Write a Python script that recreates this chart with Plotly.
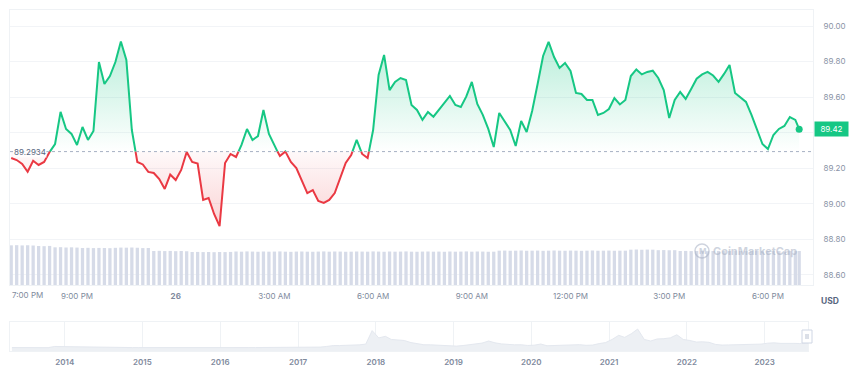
import plotly.graph_objects as go
from datetime import datetime, timedelta

# ---------------- data ----------------
START = datetime(2023, 7, 25, 19, 0)
STEP_MINUTES = 10
LAST_TIME = datetime(2023, 7, 26, 18, 57)
OPEN_PRICE = 89.2934

price = [
    89.257, 89.246, 89.224, 89.180, 89.242, 89.218, 89.235, 89.291, 89.336, 89.517,
    89.421, 89.393, 89.331, 89.432, 89.359, 89.410, 89.798, 89.674, 89.719, 89.798,
    89.914, 89.810, 89.415, 89.235, 89.221, 89.179, 89.173, 89.139, 89.083, 89.164,
    89.133, 89.190, 89.291, 89.235, 89.226, 89.021, 89.032, 88.942, 88.874, 89.229,
    89.280, 89.263, 89.331, 89.421, 89.359, 89.381, 89.528, 89.393, 89.325, 89.269,
    89.294, 89.235, 89.201, 89.133, 89.060, 89.077, 89.015, 89.004, 89.021, 89.060,
    89.139, 89.229, 89.274, 89.359, 89.280, 89.257, 89.415, 89.725, 89.838, 89.640,
    89.686, 89.708, 89.697, 89.556, 89.528, 89.472, 89.517, 89.490, 89.528, 89.567,
    89.607, 89.556, 89.545, 89.604, 89.686, 89.562, 89.500, 89.421, 89.319, 89.511,
    89.466, 89.415, 89.325, 89.466, 89.404, 89.522, 89.674, 89.832, 89.911, 89.826,
    89.765, 89.793, 89.748, 89.624, 89.618, 89.584, 89.584, 89.500, 89.511, 89.533,
    89.595, 89.559, 89.584, 89.719, 89.756, 89.728, 89.742, 89.749, 89.708, 89.640,
    89.483, 89.584, 89.629, 89.590, 89.646, 89.704, 89.728, 89.742, 89.722, 89.686,
    89.731, 89.781, 89.624, 89.598, 89.573, 89.500, 89.421, 89.336, 89.308, 89.387,
    89.421, 89.438, 89.488, 89.472, 89.42,
]

volume = [
    476, 478, 475, 477, 474, 468, 466, 469, 452, 454,
    450, 452, 449, 444, 446, 443, 445, 444, 442, 446,
    449, 448, 450, 447, 443, 444, 408, 410, 407, 409,
    406, 408, 405, 396, 397, 395, 396, 394, 396, 395,
    397, 402, 400, 403, 401, 399, 402, 400, 401, 403,
    400, 398, 401, 402, 400, 399, 401, 403, 400, 402,
    401, 399, 400, 402, 401, 400, 403, 401, 399, 402,
    400, 401, 403, 400, 399, 401, 402, 400, 401, 399,
    402, 400, 401, 403, 400, 402, 401, 399, 400, 412,
    413, 411, 412, 414, 411, 412, 413, 410, 412, 414,
    412, 411, 413, 412, 410, 412, 414, 411, 412, 413,
    411, 412, 412, 424, 426, 423, 425, 424, 418, 419,
    417, 418, 408, 409, 407, 408, 410, 406, 408, 409,
    407, 408, 410, 408, 407, 409, 408, 406, 408, 409,
    407, 408, 409, 407, 408,
]

time_tick_values = ["2023-07-25 21:00", "2023-07-26 00:00", "2023-07-26 03:00",
                    "2023-07-26 06:00", "2023-07-26 09:00", "2023-07-26 12:00",
                    "2023-07-26 15:00", "2023-07-26 18:00"]
time_tick_labels = ["9:00 PM", "<b>26</b>", "3:00 AM", "6:00 AM", "9:00 AM",
                    "12:00 PM", "3:00 PM", "6:00 PM"]
first_time_label = "7:00 PM"

price_tick_values = [88.6, 88.8, 89.0, 89.2, 89.4, 89.6, 89.8, 90.0]
price_tick_labels = ["88.60", "88.80", "89.00", "89.20", "", "89.60", "89.80", "90.00"]

# long-term history (mid-month samples, USD) for the navigator
history_start = "2013-04-28"
history_end = "2023-07-24"
history_values = [
    4.3,
    3.2, 2.9, 2.8, 2.9, 2.5, 2.2, 25, 22,                      # 2013 May-Dec
    24, 17, 14, 10, 10, 10, 7.5, 5.5, 5, 4, 3.8, 3,            # 2014
    2.2, 2.1, 1.8, 1.5, 1.4, 1.8, 4, 3.7, 2.9, 3, 3.4, 3.5,    # 2015
    3.4, 3.3, 3.2, 3.7, 4, 4.3, 4, 3.8, 3.9, 3.8, 3.8, 4.4,    # 2016
    4, 3.9, 4.2, 13, 25, 42, 43, 46, 48, 56, 70, 330,          # 2017
    190, 220, 160, 150, 140, 100, 82, 58, 57, 52, 40, 30,      # 2018
    32, 43, 58, 78, 90, 130, 95, 74, 60, 57, 58, 44,           # 2019
    50, 72, 39, 43, 45, 43, 45, 60, 47, 52, 80, 100,           # 2020
    160, 240, 200, 270, 360, 160, 130, 170, 175, 190, 250, 160,  # 2021
    140, 110, 115, 105, 65, 52, 55, 58, 54, 55, 65, 70,        # 2022
    88, 95, 85, 90, 85, 82, 90,                                # 2023 Jan-Jul
    89.4,
]
history_years = [2014, 2015, 2016, 2017, 2018, 2019, 2020, 2021, 2022, 2023]

# ---------------- derived series ----------------
times = [START + timedelta(minutes=STEP_MINUTES * i) for i in range(len(price) - 1)] + [LAST_TIME]

history_dates = [history_start]
for y in range(2013, 2024):
    for m in range(1, 13):
        if (y == 2013 and m < 5) or (y == 2023 and m > 7):
            continue
        history_dates.append(f"{y}-{m:02d}-15")
history_dates.append(history_end)

# insert crossing points with the opening price
pts = list(zip(times, price))
refined = [pts[0]]
for (t0, v0), (t1, v1) in zip(pts[:-1], pts[1:]):
    if (v0 - OPEN_PRICE) * (v1 - OPEN_PRICE) < 0:
        f = (OPEN_PRICE - v0) / (v1 - v0)
        refined.append((t0 + (t1 - t0) * f, OPEN_PRICE))
    refined.append((t1, v1))


def build_line(up):
    xs, ys = [], []
    prev_in = False
    for (t0, v0), (t1, v1) in zip(refined[:-1], refined[1:]):
        mid = (v0 + v1) / 2
        inside = mid >= OPEN_PRICE if up else mid < OPEN_PRICE
        if inside:
            if not prev_in:
                if xs:
                    xs.append(None)
                    ys.append(None)
                xs.append(t0)
                ys.append(v0)
            xs.append(t1)
            ys.append(v1)
        prev_in = inside
    return xs, ys


rx = [p[0] for p in refined]
up_fill = [max(p[1], OPEN_PRICE) for p in refined]
dn_fill = [min(p[1], OPEN_PRICE) for p in refined]

GREEN = "#16c784"
RED = "#ea3943"

fig = go.Figure()

# volume bars
fig.add_trace(go.Bar(x=times, y=volume, yaxis="y2", xaxis="x",
                     marker=dict(color="#d6dbe8", line=dict(width=0)),
                     width=0.6 * STEP_MINUTES * 60000, hoverinfo="skip"))

# green fill
fig.add_trace(go.Scatter(x=[rx[0], rx[-1]], y=[OPEN_PRICE, OPEN_PRICE], mode="lines",
                         line=dict(width=0), hoverinfo="skip"))
fig.add_trace(go.Scatter(x=rx, y=up_fill, mode="lines", line=dict(width=0), fill="tonexty",
                         fillgradient=dict(type="vertical",
                                           colorscale=[[0, "rgba(22,199,132,0.0)"],
                                                       [1, "rgba(22,199,132,0.30)"]],
                                           start=OPEN_PRICE, stop=max(price)),
                         hoverinfo="skip"))
# red fill
fig.add_trace(go.Scatter(x=[rx[0], rx[-1]], y=[OPEN_PRICE, OPEN_PRICE], mode="lines",
                         line=dict(width=0), hoverinfo="skip"))
fig.add_trace(go.Scatter(x=rx, y=dn_fill, mode="lines", line=dict(width=0), fill="tonexty",
                         fillgradient=dict(type="vertical",
                                           colorscale=[[0, "rgba(234,57,67,0.22)"],
                                                       [1, "rgba(234,57,67,0.03)"]],
                                           start=min(price), stop=OPEN_PRICE),
                         hoverinfo="skip"))

gx, gy = build_line(True)
dx, dy = build_line(False)
fig.add_trace(go.Scatter(x=gx, y=gy, mode="lines", line=dict(color=GREEN, width=2)))
fig.add_trace(go.Scatter(x=dx, y=dy, mode="lines", line=dict(color=RED, width=2)))
fig.add_trace(go.Scatter(x=[times[-1]], y=[price[-1]], mode="markers",
                         marker=dict(color=GREEN, size=7)))

# navigator
fig.add_trace(go.Scatter(x=[history_dates[0], history_dates[-1]], y=[-62, -62], mode="lines",
                         line=dict(width=0), xaxis="x2", yaxis="y3", hoverinfo="skip"))
fig.add_trace(go.Scatter(x=history_dates, y=history_values, mode="lines", xaxis="x2", yaxis="y3",
                         line=dict(color="#e4e8ef", width=1), fill="tonexty",
                         fillcolor="#edf0f4", hoverinfo="skip"))

# page body has an 8px default margin, so the figure is 8px smaller and shifted
H = 341.0  # plot-area height in px (reference 10..351)
def py(ypix):
    return (351 - ypix) / H
def px(xpix):
    return (xpix - 10) / 803.0

fig.update_layout(
    width=852, height=373,
    margin=dict(l=2, r=47, t=2, b=30),
    paper_bgcolor="white", plot_bgcolor="white",
    showlegend=False,
    font=dict(family="Inter, sans-serif", size=8, color="#808a9d"),
    xaxis=dict(domain=[0, 1], anchor="y", type="date",
               range=["2023-07-25 18:57:48", "2023-07-26 19:22:12"],
               tickvals=time_tick_values, ticktext=time_tick_labels,
               showgrid=False, zeroline=False,
               showline=True, mirror=True, linecolor="#eff2f5", linewidth=1,
               ticks="outside", ticklen=3, tickcolor="rgba(0,0,0,0)",
               tickfont=dict(size=8, color="#808a9d")),
    yaxis=dict(domain=[py(285), 1], anchor="x", side="right",
               range=[88.542, 90.091],
               tickvals=price_tick_values, ticktext=price_tick_labels,
               gridcolor="#f2f4f7", zeroline=False,
               showline=True, mirror=True, linecolor="#eff2f5", linewidth=1,
               ticks="outside", ticklen=8, tickcolor="rgba(0,0,0,0)",
               tickfont=dict(size=8, color="#8a93a6")),
    yaxis2=dict(overlaying="y", anchor="x", range=[0, 3300], visible=False),
    xaxis2=dict(domain=[0, px(808)], anchor="y3", type="date",
                range=["2013-04-19", "2023-07-24"],
                tickvals=[f"{y}-01-01" for y in history_years],
                ticktext=[str(y) for y in history_years],
                showgrid=True, gridcolor="#eff2f5", zeroline=False,
                showline=True, mirror=True, linecolor="#eff2f5",
                ticks="outside", ticklen=3, tickcolor="rgba(0,0,0,0)",
                tickfont=dict(size=8, color="#808a9d", weight=600)),
    yaxis3=dict(domain=[0, py(322)], anchor="x2", range=[-62, 496],
                showticklabels=False, showgrid=False, zeroline=False,
                showline=True, mirror=True, linecolor="#eff2f5"),
)

fig.add_shape(type="line", xref="paper", x0=0, x1=1, yref="y", y0=OPEN_PRICE, y1=OPEN_PRICE,
              line=dict(color="#a6b0c3", width=1, dash="dot"), layer="above")

# watermark logo
fig.add_shape(type="circle", xref="paper", yref="paper",
              x0=px(695), x1=px(709), y0=py(258), y1=py(244),
              line=dict(color="rgba(165,175,195,0.55)", width=1.5))
# navigator handle
fig.add_shape(type="rect", xref="paper", yref="paper",
              x0=px(802), x1=px(812), y0=py(343), y1=py(330),
              fillcolor="white", line=dict(color="#cfd6e4", width=1))
for hx in (806, 808):
    fig.add_shape(type="line", xref="paper", yref="paper", x0=px(hx), x1=px(hx),
                  y0=py(339), y1=py(334), line=dict(color="#b8c0d0", width=1))

fig.add_annotation(text=first_time_label, xref="paper", x=0, xanchor="left",
                   yref="paper", y=py(295), yanchor="middle", showarrow=False,
                   font=dict(size=8, color="#808a9d"))
fig.add_annotation(text=f"{OPEN_PRICE:.4f}", xref="paper", x=0, xshift=3, xanchor="left",
                   yref="y", y=OPEN_PRICE, yanchor="middle", showarrow=False,
                   bgcolor="rgba(255,255,255,0.75)", borderpad=0,
                   font=dict(size=8, color="#58667e"))
fig.add_annotation(text=f"{price[-1]:.2f}", xref="paper", x=1, xshift=1, xanchor="left",
                   yref="y", y=price[-1], yanchor="middle", showarrow=False,
                   bgcolor=GREEN, width=30, height=11, borderpad=1.5,
                   font=dict(size=8, color="white"))
fig.add_annotation(text="<b>USD</b>", xref="paper", x=1, xshift=6, xanchor="left",
                   yref="paper", y=py(301), yanchor="middle", showarrow=False,
                   font=dict(size=8.5, color="#58667e"))
fig.add_annotation(text="<b>CoinMarketCap</b>", xref="paper", x=px(754.5), xanchor="center",
                   yref="paper", y=py(251), yanchor="middle", showarrow=False,
                   font=dict(size=11, color="rgba(165,175,195,0.55)"))
fig.add_annotation(text="<b>M</b>", xref="paper", x=px(702), xanchor="center",
                   yref="paper", y=py(251), yanchor="middle", showarrow=False,
                   font=dict(size=8, color="rgba(165,175,195,0.55)"))

fig.write_html("out.html")
